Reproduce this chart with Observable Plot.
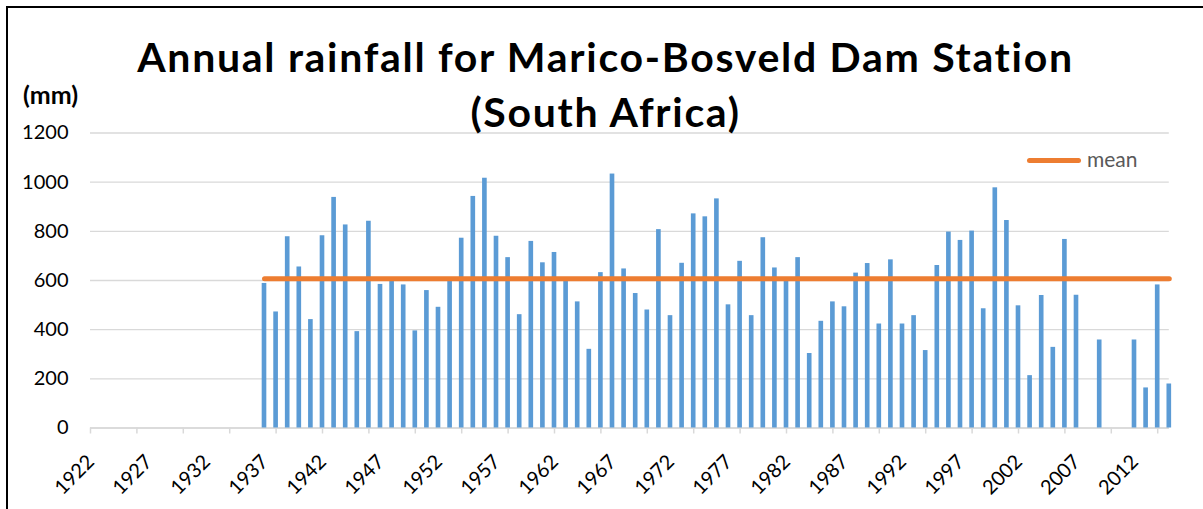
<!DOCTYPE html>
<html>
<head>
<meta charset="utf-8">
<script src="https://cdn.jsdelivr.net/npm/d3@7"></script>
<script src="https://cdn.jsdelivr.net/npm/@observablehq/plot@0.6"></script>
<style>
  html, body { margin: 0; padding: 0; background: #fff; }
  #wrap { position: relative; width: 1203px; height: 509px; overflow: hidden; font-family: Lato, "Open Sans", sans-serif; }
  #wrap svg { position: absolute; left: 0; top: 0; }
  .frame { position: absolute; left: 6px; top: 6px; width: 1400px; height: 700px; border-top: 2px solid #000; border-left: 2px solid #000; }
  .title { position: absolute; left: 0; width: 1211px; text-align: center; font-weight: bold; font-size: 41px; line-height: 41px; letter-spacing: 1.7px; color: #000; white-space: nowrap; }
  .unit { position: absolute; left: 23px; top: 82px; font-weight: bold; font-size: 25px; line-height: 25px; color: #000; }
  .legline { position: absolute; left: 1027px; top: 157.5px; width: 54px; height: 5px; background: #ED7D31; border-radius: 2.5px; }
  .legtext { position: absolute; left: 1087px; top: 148px; font-size: 21px; line-height: 21px; color: #595959; }
</style>
</head>
<body>
<div id="wrap"></div>
<script>
// ---- data ----
const years = [
  1937, 1938, 1939, 1940, 1941, 1942, 1943, 1944, 1945, 1946,
  1947, 1948, 1949, 1950, 1951, 1952, 1953, 1954, 1955, 1956,
  1957, 1958, 1959, 1960, 1961, 1962, 1963, 1964, 1965, 1966,
  1967, 1968, 1969, 1970, 1971, 1972, 1973, 1974, 1975, 1976,
  1977, 1978, 1979, 1980, 1981, 1982, 1983, 1984, 1985, 1986,
  1987, 1988, 1989, 1990, 1991, 1992, 1993, 1994, 1995, 1996,
  1997, 1998, 1999, 2000, 2001, 2002, 2003, 2004, 2005, 2006,
  2007, 2008, 2009, 2010, 2011, 2012, 2013, 2014, 2015
];
const rainfall = [
  588, 472, 778, 655, 441, 782, 938, 826, 392, 841,
  584, 600, 582, 395, 559, 491, 600, 772, 942, 1016,
  780, 693, 461, 759, 672, 714, 600, 513, 320, 632,
  1033, 647, 547, 480, 807, 457, 670, 871, 859, 932,
  501, 678, 457, 774, 651, 600, 693, 303, 434, 513,
  493, 630, 669, 423, 684, 423, 457, 315, 661, 797,
  763, 801, 485, 977, 844, 497, 213, 539, 328, 767,
  540, null, 358, null, null, 358, 163, 582, 179
];
const meanValue = 607;
const xDomain = [1922, 2015];
const yTicks = [0, 200, 400, 600, 800, 1000, 1200];
const xLabelYears = [1922, 1927, 1932, 1937, 1942, 1947, 1952, 1957, 1962, 1967, 1972, 1977, 1982, 1987, 1992, 1997, 2002, 2007, 2012];
const xTickYears = [1922, 1926, 1930, 1934, 1938, 1942, 1946, 1950, 1954, 1958, 1962, 1966, 1970, 1974, 1978, 1982, 1986, 1990, 1994, 1998, 2002, 2006, 2010, 2014];
const titleLine1 = "Annual rainfall for Marico-Bosveld Dam Station";
const titleLine2 = "(South Africa)";
const unitLabel = "(mm)";
const legendLabel = "mean";

// ---- table ----
const table = years.map((year, i) => ({year, value: rainfall[i]}));
const bars = table.filter(d => d.value != null);

const chart = Plot.plot({
  width: 1203,
  height: 509,
  marginLeft: 90,
  marginRight: 34.2,
  marginTop: 132.5,
  marginBottom: 81.5,
  style: {fontFamily: "Lato, 'Open Sans', sans-serif", fontSize: "20px", color: "#000", background: "transparent", overflow: "visible"},
  x: {domain: xDomain, axis: null},
  y: {domain: [0, 1200], axis: null},
  marks: [
    Plot.gridY(yTicks, {stroke: "#d9d9d9", strokeOpacity: 1, strokeWidth: 1.3}),
    Plot.axisY(yTicks, {tickSize: 0, tickPadding: 22, fontSize: 20, label: null, tickFormat: d => String(d)}),
    Plot.axisX(xTickYears, {tickSize: 6, tickFormat: () => "", label: null, stroke: "#d9d9d9", strokeWidth: 1.5}),
    Plot.ruleY([0], {stroke: "#d9d9d9", strokeWidth: 1.5}),
    Plot.rectY(bars, {x1: d => d.year - 0.2, x2: d => d.year + 0.2, y: "value", fill: "#5B9BD5"}),
    Plot.lineY(table, {x: "year", y: () => meanValue, stroke: "#ED7D31", strokeWidth: 5, strokeLinecap: "round"}),
    Plot.text(xLabelYears, {x: d => d, frameAnchor: "bottom", rotate: -45, textAnchor: "end", lineAnchor: "bottom", dx: 5, dy: 35, fontSize: 20, fill: "#000", text: d => String(d)})
  ]
});

const wrap = document.getElementById("wrap");
wrap.appendChild(chart);

function addDiv(cls, text, style) {
  const el = document.createElement("div");
  el.className = cls;
  if (text != null) el.textContent = text;
  if (style) Object.assign(el.style, style);
  wrap.appendChild(el);
  return el;
}
addDiv("frame", null);
addDiv("title", titleLine1, {top: "35.6px"});
addDiv("title", titleLine2, {top: "90.6px"});
addDiv("unit", unitLabel);
addDiv("legline", null);
addDiv("legtext", legendLabel);
</script>
</body>
</html>
